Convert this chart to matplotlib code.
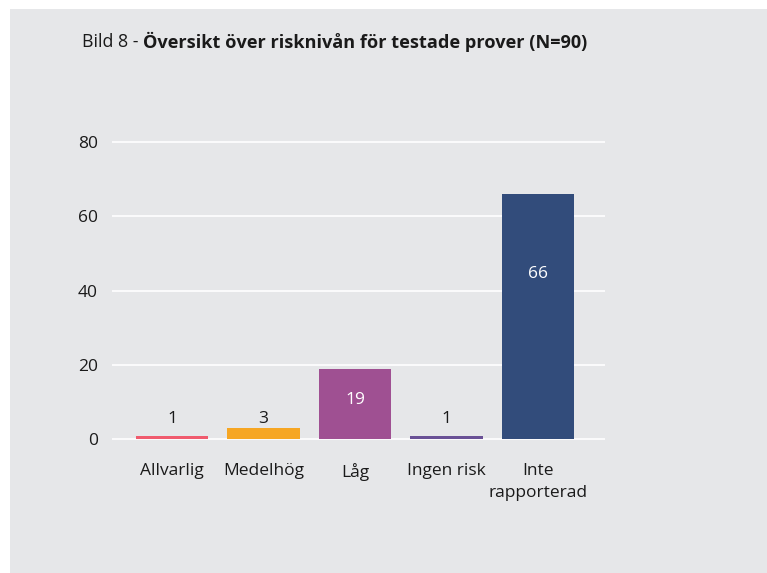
import matplotlib
matplotlib.use("Agg")
import matplotlib.pyplot as plt

categories = ["Allvarlig", "Medelhög", "Låg", "Ingen risk", "Inte\nrapporterad"]
values = [1, 3, 19, 1, 66]
colors = ["#f05b6e", "#f6a623", "#9f5092", "#6a5196", "#324c7b"]
yticks = [0, 20, 40, 60, 80]

plt.rcParams['font.family'] = ['Open Sans', 'DejaVu Sans']

W, H = 767, 573
fig = plt.figure(figsize=(W / 100, H / 100), dpi=100)
fig.patch.set_facecolor("white")
bg = "#e6e7e9"
bgax = fig.add_axes([10 / W, 0, 1 - 10 / W, 1 - 9 / H], zorder=-10)
bgax.set_facecolor(bg)
bgax.set_xticks([])
bgax.set_yticks([])
for s in bgax.spines.values():
    s.set_visible(False)

fs = 12.5
ax = fig.add_axes([112 / W, 0.230, (605 - 112) / W, 0.756 - 0.230])
ax.set_facecolor("none")
x = list(range(len(categories)))
ax.bar(x, values, width=0.79, color=colors, zorder=3)
ax.set_xlim(-0.655, 4.73)
ax.set_ylim(-0.5, 80.5)
ax.set_yticks(yticks)
ax.set_yticklabels([str(t) for t in yticks], fontsize=fs, color="#1a1a1a")
ax.set_xticks(x)
ax.set_xticklabels(categories, fontsize=fs, color="#1a1a1a", linespacing=1.45)
ax.tick_params(axis="both", length=0)
ax.tick_params(axis="y", pad=10)
ax.tick_params(axis="x", pad=16)
for s in ax.spines.values():
    s.set_visible(False)
ax.grid(axis="y", color="white", linewidth=1.2, zorder=1)
ax.set_axisbelow(True)

for xi, v in zip(x, values):
    if v < 10:
        ax.text(xi, 5.4, str(v), ha="center", va="center", fontsize=fs,
                color="#1a1a1a", zorder=4)
    else:
        frac = 0.55 if v < 40 else 0.675
        ax.text(xi, v * frac, str(v), ha="center", va="center", fontsize=fs,
                color="white", zorder=4)

t1 = fig.text(82 / W, 1 - 42 / H, "Bild 8 - ", fontsize=12.8, color="#1a1a1a",
              ha="left", va="center")
fig.canvas.draw()
bb = t1.get_window_extent()
fig.text(bb.x1 / W, 1 - 42 / H, "Översikt över risknivån för testade prover (N=90)",
         fontsize=13.1, fontweight="bold", color="#1a1a1a", ha="left", va="center")

fig.savefig("out.png", dpi=100, facecolor="white")
